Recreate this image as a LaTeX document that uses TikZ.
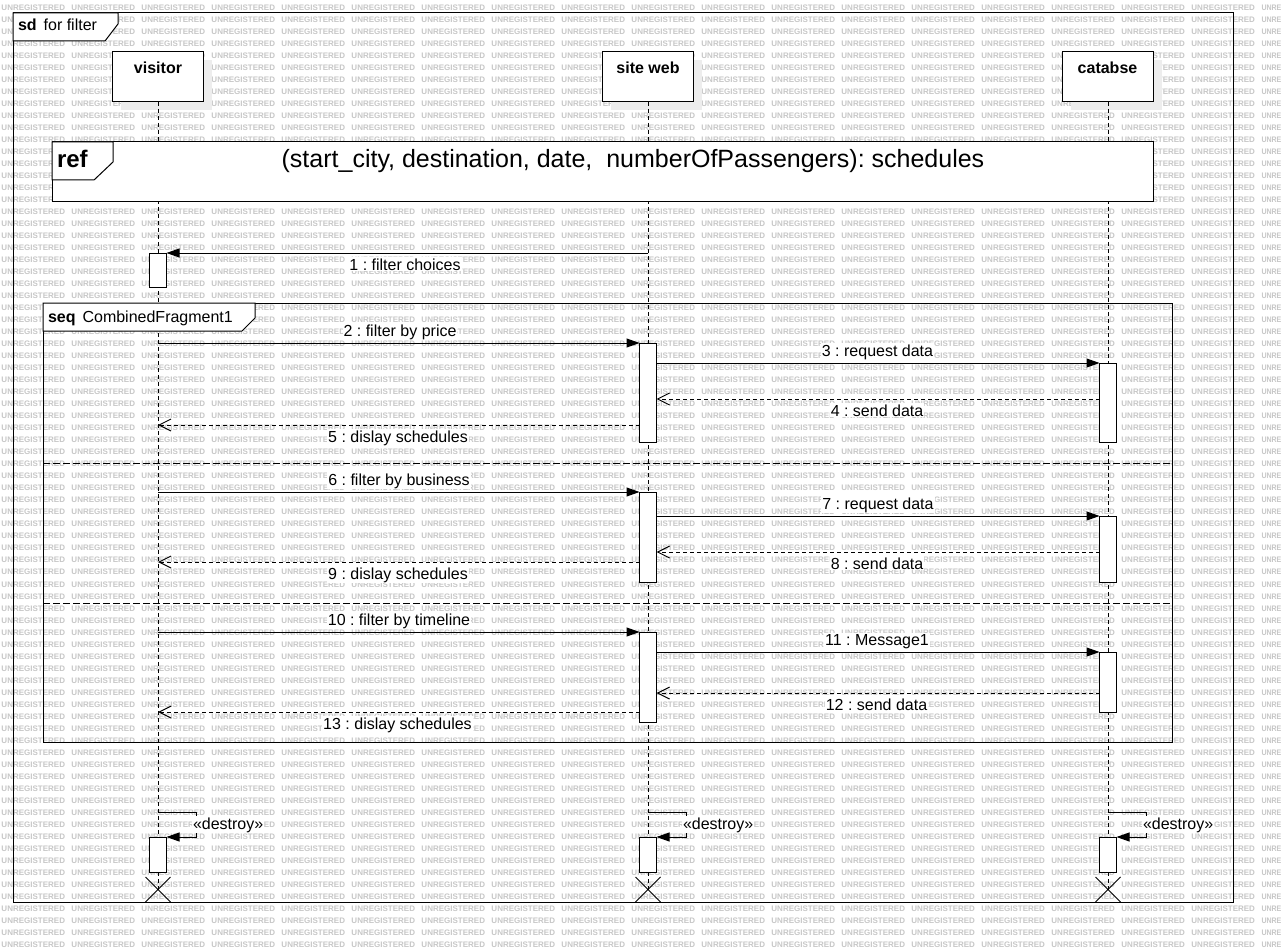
\documentclass[tikz,border=0pt]{standalone}
\usepackage{fontspec}
\setmainfont{Liberation Sans}
\usetikzlibrary{arrows.meta}
\newcommand\wmunit{\makebox[70pt][l]{UNREGISTERED}}
\newcommand\wmline{\wmunit\wmunit\wmunit\wmunit\wmunit\wmunit\wmunit\wmunit\wmunit\wmunit\wmunit\wmunit\wmunit\wmunit\wmunit\wmunit\wmunit\wmunit\scalebox{0.88}[1]{UNRE}}
\begin{document}
\frenchspacing
\begin{tikzpicture}[x=1pt,y=-1pt,
  every node/.style={inner sep=0pt, outer sep=0pt},
  wm/.style={anchor=west, text=black!22, font=\fontsize{8}{9}\selectfont\bfseries},
  ln/.style={line width=1pt, draw=black},
  life/.style={line width=1pt, dash pattern=on 4pt off 3pt},
  sepline/.style={line width=1pt, dash pattern=on 7pt off 3pt},
  head/.style={draw, line width=1pt, fill=white, minimum width=91pt, minimum height=50pt},
  shadow/.style={fill=black!7},
  act/.style={draw, line width=1pt, fill=white, minimum width=17pt, anchor=north},
  sync/.style={line width=1pt, -{Triangle[length=13pt,width=9pt]}},
  ret/.style={line width=1pt, dash pattern=on 4pt off 3pt, -{Straight Barb[length=12pt,width=12pt,line width=1pt]}},
  lbl/.style={font=\fontsize{16}{19}\selectfont, fill=white, inner sep=1pt, anchor=base},
  tabtxt/.style={font=\fontsize{16}{19}\selectfont, anchor=base west},
]
\useasboundingbox (0,0) rectangle (1282,952);
\fill[white] (0,0) rectangle (1282,952);
% watermark
\foreach \r in {0,...,78}{
  \node[wm] (wm\r) at (1.5,{7.3+12.02*\r}) {\wmline};
}
% outer frame
\draw[ln] (13,13) rectangle (1233,902);
\filldraw[ln, fill=white] (13,13) -- (118,13) -- (118,24) -- (105,41) -- (13,41) -- cycle;
\node[tabtxt] (sdt) at (18,31) {\textbf{sd}\hspace{7pt}for filter};

% lifeline heads
\fill[shadow] (120.5,60) rectangle (211.5,110);
\fill[shadow] (610.5,60) rectangle (701.5,110);
\fill[shadow] (1070.5,60) rectangle (1161.5,110);
\node[head] (vis) at (158,77) {};
\node[head] (web) at (648,77) {};
\node[head] (db) at (1107.5,77) {};
\node[tabtxt, anchor=base] (vist) at (158,74) {\textbf{visitor}};
\node[tabtxt, anchor=base] (webt) at (648,74) {\textbf{site web}};
\node[tabtxt, anchor=base] (dbt) at (1107.5,74) {\textbf{catabse}};

% destruction points
\coordinate (xv) at (158,889.5);
\coordinate (xw) at (648,889.5);
\coordinate (xc) at (1108,889.5);
\draw[life] (vis.south) -- (xv);
\draw[life] (web.south) -- (xw);
\draw[life] (db.south -| xc) -- (xc);

% ref fragment
\node[draw, line width=1pt, fill=white, minimum width=1101pt, minimum height=60pt, anchor=north west] (ref) at (52,142) {};
\filldraw[ln, fill=white] (52,142) -- (113,142) -- (113,162) -- (94,180) -- (52,180) -- cycle;
\node[font=\fontsize{24}{28}\selectfont\bfseries, anchor=base west] (reft) at (57,168) {ref};
\node[font=\fontsize{25}{29}\selectfont, anchor=base] (refs) at (633,168) {(start\_city, destination, date,\ \ numberOfPassengers): schedules};

% seq fragment
\draw[ln] (43,303) rectangle (1172,742);
\filldraw[ln, fill=white] (43,303) -- (255,303) -- (255,318) -- (242,331) -- (43,331) -- cycle;
\node[tabtxt] (seqt) at (48,322) {\textbf{seq}\hspace{7pt}CombinedFragment1};
\draw[sepline] (43,463) -- (1172,463);
\draw[sepline] (43,603) -- (1172,603);

% activations
\node[act, minimum height=34pt] (va1) at (158,253) {};
\node[act, minimum height=99pt] (wa1) at (648,343) {};
\node[act, minimum height=90pt] (wa2) at (648,492) {};
\node[act, minimum height=90pt] (wa3) at (648,632) {};
\node[act, minimum height=79pt] (ca1) at (1108,363) {};
\node[act, minimum height=66pt] (ca2) at (1108,516) {};
\node[act, minimum height=60pt] (ca3) at (1108,652) {};
\node[act, minimum height=35pt] (vd) at (158,837) {};
\node[act, minimum height=35pt] (wd) at (648,837) {};
\node[act, minimum height=35pt] (cd) at (1108,837) {};

% messages
\coordinate (m1) at (648,253);
\draw[sync] (m1) -- (va1.north east);
\node[lbl] (l1) at (405,270) {1 : filter choices};

\coordinate (m2) at (158,343);
\draw[sync] (m2) -- (wa1.north west);
\node[lbl] (l2) at (400,336) {2 : filter by price};
\draw[sync] (wa1.east |- ca1.north) -- (ca1.north west);
\node[lbl] (l3) at (877.5,356) {3 : request data};
\coordinate (y4) at (0,399);
\draw[ret] (ca1.west |- y4) -- (wa1.east |- y4);
\node[lbl] (l4) at (877,416) {4 : send data};
\coordinate (m5) at (158,425);
\draw[ret] (wa1.west |- m5) -- (m5);
\node[lbl] (l5) at (398,442) {5 : dislay schedules};

\coordinate (m6) at (158,492);
\draw[sync] (m6) -- (wa2.north west);
\node[lbl] (l6) at (399,485) {6 : filter by business};
\draw[sync] (wa2.east |- ca2.north) -- (ca2.north west);
\node[lbl] (l7) at (878,509) {7 : request data};
\coordinate (y8) at (0,552);
\draw[ret] (ca2.west |- y8) -- (wa2.east |- y8);
\node[lbl] (l8) at (877,569) {8 : send data};
\coordinate (m9) at (158,562);
\draw[ret] (wa2.west |- m9) -- (m9);
\node[lbl] (l9) at (398,579) {9 : dislay schedules};

\coordinate (m10) at (158,632);
\draw[sync] (m10) -- (wa3.north west);
\node[lbl] (l10) at (399,625) {10 : filter by timeline};
\draw[sync] (wa3.east |- ca3.north) -- (ca3.north west);
\node[lbl] (l11) at (877,645) {11 : Message1};
\coordinate (y12) at (0,693);
\draw[ret] (ca3.west |- y12) -- (wa3.east |- y12);
\node[lbl] (l12) at (876.5,710) {12 : send data};
\coordinate (m13) at (158,712);
\draw[ret] (wa3.west |- m13) -- (m13);
\node[lbl] (l13) at (397.5,729) {13 : dislay schedules};

% destroy messages
\coordinate (dv) at (158,812);
\coordinate (dw) at (648,812);
\coordinate (dc) at (1108,812);
\draw[sync] (dv) -- ++(38,0) |- (vd.north east);
\draw[sync] (dw) -- ++(38,0) |- (wd.north east);
\draw[sync] (dc) -- ++(38,0) |- (cd.north east);
\node[lbl, anchor=base west] (ldv) at (192,829) {«destroy»};
\node[lbl, anchor=base west] (ldw) at (682,829) {«destroy»};
\node[lbl, anchor=base west] (ldc) at (1142,829) {«destroy»};

% X marks
\draw[line width=1pt] (xv) +(-12.5,-12.5) -- +(12.5,12.5) (xv) +(12.5,-12.5) -- +(-12.5,12.5);
\draw[line width=1pt] (xw) +(-12.5,-12.5) -- +(12.5,12.5) (xw) +(12.5,-12.5) -- +(-12.5,12.5);
\draw[line width=1pt] (xc) +(-12.5,-12.5) -- +(12.5,12.5) (xc) +(12.5,-12.5) -- +(-12.5,12.5);
\end{tikzpicture}
\end{document}
